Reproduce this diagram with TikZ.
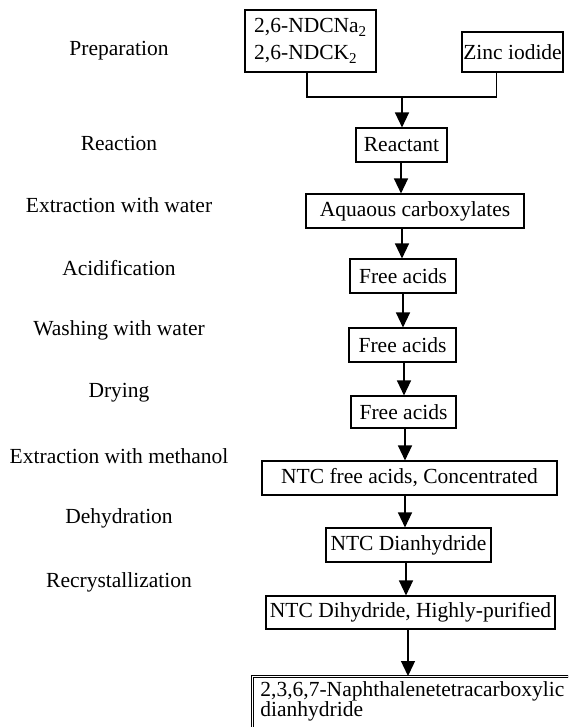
\documentclass[tikz,border=0pt]{standalone}
\usepackage{fontspec}
\setmainfont{Liberation Serif}
\usetikzlibrary{arrows.meta}

\begin{document}
\begin{tikzpicture}[x=1pt,y=-1pt,
    every node/.style={font=\fontsize{21.5}{23}\selectfont},
    stepbox/.style={draw,line width=1.1pt,inner sep=0pt,minimum height=34pt},
    stage/.style={anchor=center},
    flow/.style={line width=1.3pt,-{Triangle[width=14pt,length=15pt]}}]
  \useasboundingbox (0,0) rectangle (568,727);
  \clip (0,0) rectangle (568,727);
  % stage names on the left
  \node[stage] (sPrep) at (119,51) {Preparation};
  \node[stage] (sReac) at (119,143) {Reaction};
  \node[stage] (sExtW) at (119,205) {Extraction with water};
  \node[stage] (sAcid) at (119,268) {Acidification};
  \node[stage] (sWash) at (119,330) {Washing with water};
  \node[stage] (sDry) at (119,393) {Drying};
  \node[stage] (sExtM) at (119,456) {Extraction with methanol};
  \node[stage] (sDehy) at (119,518) {Dehydration};
  \node[stage] (sRecr) at (119,582) {Recrystallization};
  % boxes
  \node[stepbox,minimum width=131pt,minimum height=62pt,align=left] (salts) at (310.5,41)
    {2,6-NDCNa\textsubscript{2}\\[4pt]2,6-NDCK\textsubscript{2}};
  \node[stepbox,minimum width=101pt,minimum height=40pt] (zinc) at (512.5,52) {Zinc iodide};
  \node[stepbox,minimum width=91pt] (reactant) at (401.5,145) {Reactant};
  \node[stepbox,minimum width=218pt] (aqua) at (415,211) {Aquaous carboxylates};
  \node[stepbox,minimum width=106pt] (freeA) at (403,276) {Free acids};
  \node[stepbox,minimum width=107pt] (freeB) at (402.5,345) {Free acids};
  \node[stepbox,minimum width=105pt,minimum height=32pt] (freeC) at (403.5,412) {Free acids};
  \node[stepbox,minimum width=295pt] (ntcFree) at (409.5,478) {NTC free acids, Concentrated};
  \node[stepbox,minimum width=165pt] (ntcDian) at (408.5,545) {NTC Dianhydride};
  \node[stepbox,minimum width=289pt,minimum height=33pt] (ntcPure) at (410.5,612.5) {NTC Dihydride, Highly-purified};
  \node[draw,double,line width=0.9pt,double distance=1.6pt,anchor=north west,
    align=left,text width=312pt,inner xsep=8pt,inner ysep=4pt,minimum height=70pt]
    (product) at (252,676)
    {\fontsize{21.5}{18}\selectfont 2,3,6,7-Naphthalenetetracarboxylic\\dianhydride\\[2pt]\mbox{}};
  % connectors
  \coordinate (join) at (402,97);
  \draw[line width=1.1pt] (salts.south -| 307,0) |- (join);
  \draw[line width=1.1pt] ([xshift=-16pt]zinc.south) |- (join);
  \draw[flow] (join) -- (reactant.north -| join);
  \draw[flow] (reactant.south -| 401,0) -- (aqua.north -| 401,0);
  \draw[flow] (aqua.south -| 402,0) -- (freeA.north -| 402,0);
  \draw[flow] (freeA.south -| 403,0) -- (freeB.north -| 403,0);
  \draw[flow] (freeB.south -| 404,0) -- (freeC.north -| 404,0);
  \draw[flow] (freeC.south -| 405,0) -- (ntcFree.north -| 405,0);
  \draw[flow] (ntcFree.south -| 405,0) -- (ntcDian.north -| 405,0);
  \draw[flow] (ntcDian.south -| 406,0) -- (ntcPure.north -| 406,0);
  \draw[flow] (ntcPure.south -| 408,0) -- (product.north -| 408,0);
\end{tikzpicture}
\end{document}
